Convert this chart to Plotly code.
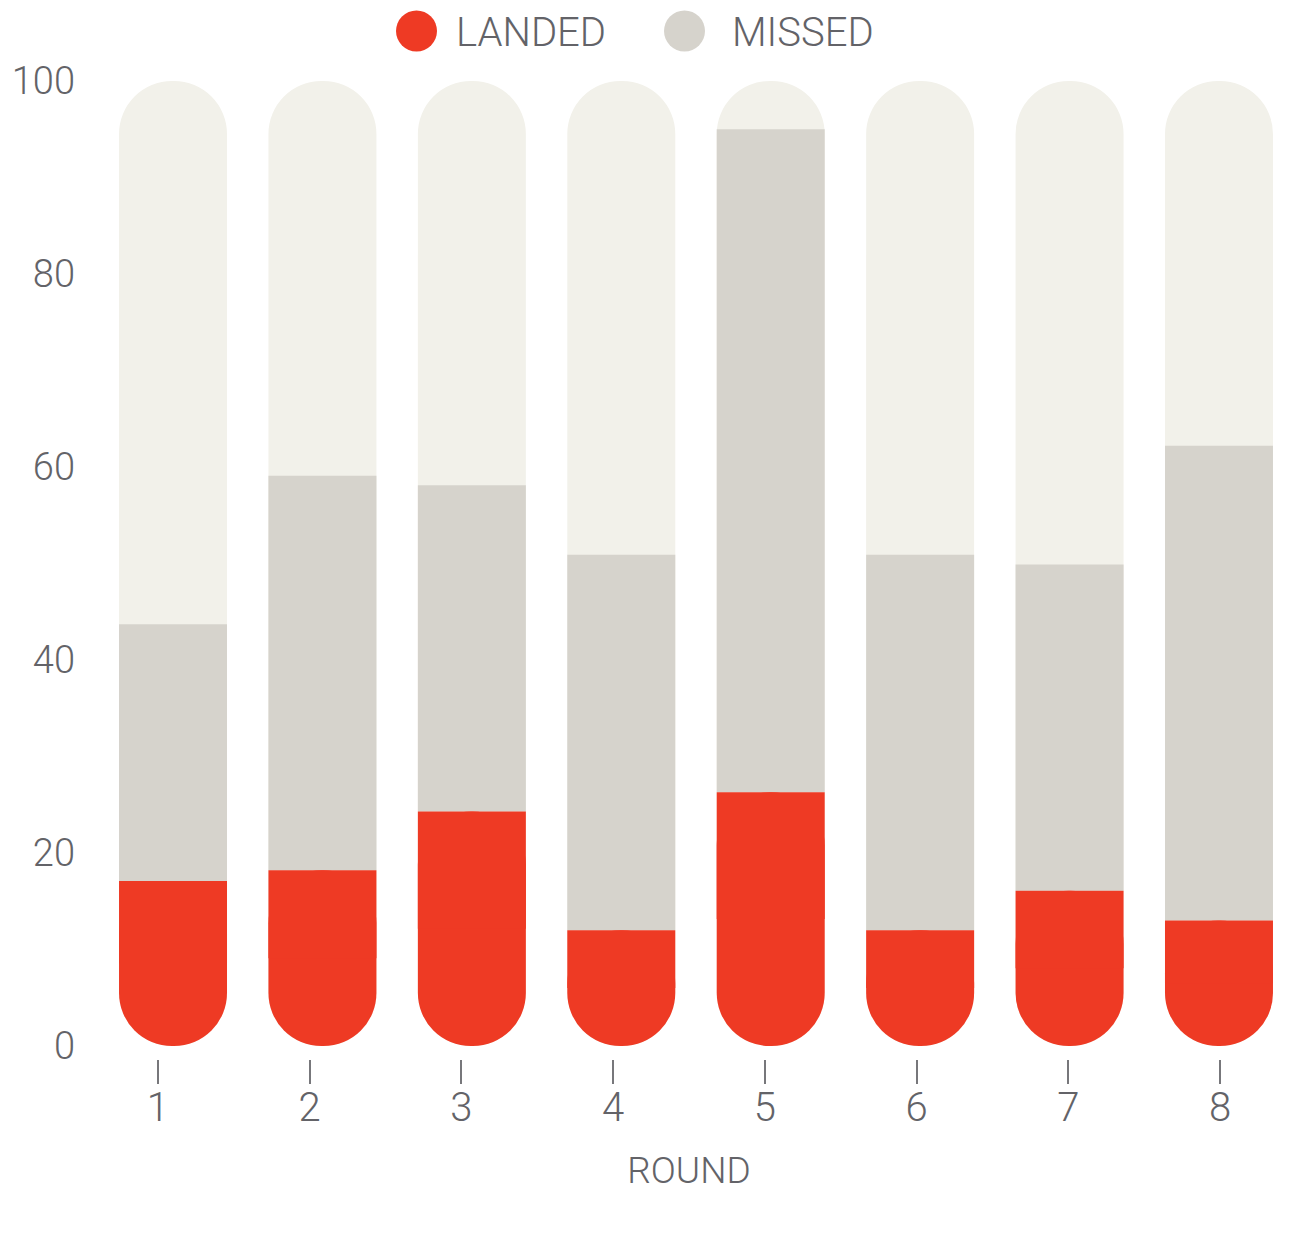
import plotly.graph_objects as go

# ---------------- data ----------------
rounds = [1, 2, 3, 4, 5, 6, 7, 8]
round_labels = ["1", "2", "3", "4", "5", "6", "7", "8"]
landed = [17.1, 18.2, 24.3, 12.0, 26.3, 12.0, 16.1, 13.0]
missed = [26.6, 40.9, 33.8, 38.9, 68.7, 38.9, 33.8, 49.2]
track = [100, 100, 100, 100, 100, 100, 100, 100]
y_ticks = [0, 20, 40, 60, 80, 100]
y_tick_labels = ["0", "20", "40", "60", "80", "100"]
series_names = ["LANDED", "MISSED"]

# ---------------- style ----------------
RED = "#EE3A24"
GRAY = "#D6D3CC"
TRACK = "#F2F1EA"
TEXT = "#636368"
FONT = "Roboto"
WEIGHT = 300

W, H = 1296, 1238
L, R, T, B = 74, 8, 63, 187
plot_w = W - L - R
plot_h = H - T - B


def px(x):
    return (x - L) / plot_w


def py(y):
    return (H - B - y) / plot_h


bar_w = 0.7227
common = dict(width=bar_w, hoverinfo="skip", showlegend=False)

fig = go.Figure()
# background track (rounded top)
fig.add_trace(go.Bar(x=rounds, y=track, base=[0] * len(rounds),
                     marker=dict(color=TRACK, cornerradius="50%", line=dict(width=0)),
                     **common))
# missed, stacked on landed
fig.add_trace(go.Bar(x=rounds, y=missed, base=landed, name=series_names[1],
                     marker=dict(color=GRAY, line=dict(width=0)), **common))
# landed: rounded bottom part + square upper part
fig.add_trace(go.Bar(x=rounds, y=[-v for v in landed], base=landed, name=series_names[0],
                     marker=dict(color=RED, cornerradius="50%", line=dict(width=0)),
                     **common))
fig.add_trace(go.Bar(x=rounds, y=[v / 2 for v in landed], base=[v / 2 for v in landed],
                     marker=dict(color=RED, line=dict(width=0)), **common))

fig.update_layout(
    width=W, height=H,
    margin=dict(l=L, r=R, t=T, b=B, autoexpand=False),
    barmode="overlay",
    paper_bgcolor="white", plot_bgcolor="rgba(0,0,0,0)",
    font=dict(family=FONT, color=TEXT, size=40, weight=WEIGHT),
    xaxis=dict(domain=[px(90.3), px(1285.7)], range=[0.5, 8.5], anchor="y",
               showticklabels=False, ticks="", showgrid=False, automargin=False,
               zeroline=False, showline=False, fixedrange=True),
    xaxis2=dict(domain=[0, 1], range=[0.5, 8.5], anchor="y",
                side="bottom", tickmode="array", tickvals=rounds,
                ticktext=round_labels, ticks="outside", ticklen=24,
                tickwidth=2, tickcolor="#77777b", showgrid=False, automargin=False,
                zeroline=False, showline=False, ticklabelstandoff=-11,
                tickfont=dict(size=40, color=TEXT, family=FONT, weight=WEIGHT),
                title=dict(text="ROUND",
                           font=dict(size=37, color=TEXT, family=FONT, weight=WEIGHT),
                           standoff=27)),
    yaxis=dict(range=[-1.347, 101.036], anchor="free", position=0,
               tickmode="array", tickvals=y_ticks, ticktext=y_tick_labels,
               ticks="", showgrid=False, zeroline=False, showline=False,
               ticklabelstandoff=7, automargin=False,
               tickfont=dict(size=38, color=TEXT, family=FONT, weight=WEIGHT)),
)

# invisible helper so the tick axis is drawn
fig.add_trace(go.Scatter(x=rounds, y=[None] * len(rounds), xaxis="x2", yaxis="y",
                         mode="markers", hoverinfo="skip", showlegend=False))

# legend drawn as shapes + text
legend_items = [(series_names[0], RED, 388, 446), (series_names[1], GRAY, 656, 722)]
for name, col, cx0, tx in legend_items:
    fig.add_shape(type="circle", xref="paper", yref="paper",
                  x0=px(cx0), x1=px(cx0 + 41), y0=py(43.5), y1=py(2.5),
                  fillcolor=col, line=dict(width=0))
    fig.add_annotation(text=name, xref="paper", yref="paper", x=px(tx), y=py(24.5),
                       xanchor="left", yanchor="middle", height=46, valign="middle",
                       showarrow=False,
                       font=dict(size=40, color=TEXT, family=FONT, weight=WEIGHT))

fig.write_html("out.html")
